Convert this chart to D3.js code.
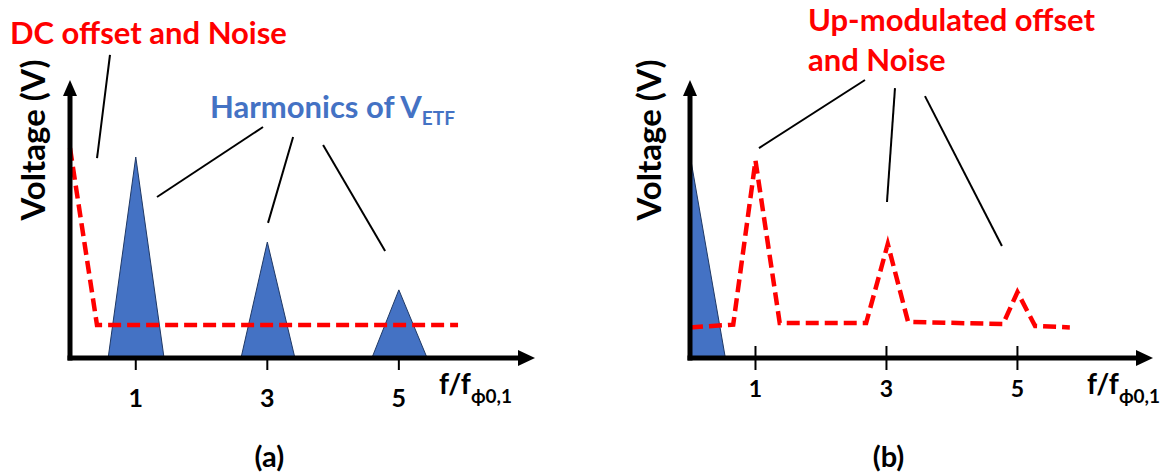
<!DOCTYPE html>
<html lang="en">
<head>
<meta charset="utf-8">
<title>Spectrum sketch</title>
<script src="https://cdn.jsdelivr.net/npm/d3@7"></script>
<style>
  body { margin: 0; background: #fff; }
  text { font-family: Lato, "Open Sans", sans-serif; font-weight: bold; }
</style>
</head>
<body>
<script>
// ---- data (frequency in f/f_phi0,1, voltage in arbitrary units 0..1) ----
var freqTicks = [1, 3, 5];

// panel (a): harmonics of V_ETF
var harmonicPeakF = [1, 3, 5];
var harmonicPeakV = [0.723, 0.417, 0.245];
var harmonicBaseLo = [0.58, 2.6, 4.59];
var harmonicBaseHi = [1.43, 3.42, 5.43];

// panel (a): DC offset and noise
var noiseAF = [0, 0.41, 5.9];
var noiseAV = [0.755, 0.119, 0.119];

// panel (b): signal moved to baseband
var signalBF = [0, 0.54, 0];
var signalBV = [0.73, 0, 0];

// panel (b): up-modulated offset and noise
var noiseBF = [0, 0.66, 1.0, 1.37, 2.69, 3.02, 3.33, 4.78, 5.0, 5.27, 5.8];
var noiseBV = [0.11, 0.12, 0.71, 0.126, 0.126, 0.41, 0.13, 0.122, 0.237, 0.115, 0.11];

// callout lines [f1, v1, f2, v2]
var calloutDC = [[0.608, 1.09, 0.411, 0.719]];
var calloutHarm = [[2.935, 0.831, 1.323, 0.579], [3.392, 0.795, 3.011, 0.486], [3.848, 0.766, 4.791, 0.385]];
var calloutUp = [[2.672, 1.0, 1.053, 0.755], [3.13, 0.971, 3.008, 0.561], [3.588, 0.942, 4.763, 0.403]];

var w = 1174, h = 476;
var blue = "#4472C4", red = "#FF0000";

var svg = d3.select("body").append("svg")
    .attr("width", w).attr("height", h);

var y = d3.scaleLinear().domain([0, 1]).range([358, 80]);

function drawPanel(x0, x1, fMax) {
    var x = d3.scaleLinear().domain([0, fMax]).range([x0, x1]);
    var g = svg.append("g");
    return { x: x, g: g };
}

function poly(x, fs, vs) {
    return d3.line().x(function(d){ return x(d[0]); }).y(function(d){ return y(d[1]); })(d3.zip(fs, vs));
}

function axes(p) {
    var x = p.x, g = p.g;
    var ox = x(0), oy = y(0);
    var xEnd = x.range()[1];
    // ticks
    g.selectAll("line.tick").data(freqTicks).enter().append("line")
        .attr("class", "tick")
        .attr("x1", function(d){ return x(d); }).attr("x2", function(d){ return x(d); })
        .attr("y1", oy - 12).attr("y2", oy + 12)
        .attr("stroke", "#000").attr("stroke-width", 2);
    return function() {
        g.append("line").attr("x1", ox).attr("x2", ox).attr("y1", oy + 2.5).attr("y2", y(1) + 14)
            .attr("stroke", "#000").attr("stroke-width", 5);
        g.append("path").attr("d", "M" + (ox - 7) + "," + (y(1) + 16) + "L" + ox + "," + y(1) + "L" + (ox + 7) + "," + (y(1) + 16) + "Z")
            .attr("fill", "#000");
        g.append("line").attr("x1", ox - 2.5).attr("x2", xEnd - 14).attr("y1", oy).attr("y2", oy)
            .attr("stroke", "#000").attr("stroke-width", 5);
        g.append("path").attr("d", "M" + (xEnd - 17) + "," + (oy - 8) + "L" + xEnd + "," + oy + "L" + (xEnd - 17) + "," + (oy + 8) + "Z")
            .attr("fill", "#000");
    };
}

function callouts(p, data) {
    p.g.selectAll(null).data(data).enter().append("line")
        .attr("x1", function(d){ return p.x(d[0]); }).attr("y1", function(d){ return y(d[1]); })
        .attr("x2", function(d){ return p.x(d[2]); }).attr("y2", function(d){ return y(d[3]); })
        .attr("stroke", "#000").attr("stroke-width", 2);
}

function dashed(p, fs, vs) {
    p.g.append("path").attr("d", poly(p.x, fs, vs))
        .attr("fill", "none").attr("stroke", red).attr("stroke-width", 4.5)
        .attr("stroke-dasharray", "13,6");
}

function labels(p, o) {
    var g = p.g, x = p.x;
    g.selectAll(null).data(freqTicks).enter().append("text")
        .attr("x", function(d){ return x(d); }).attr("y", o.tickY)
        .attr("text-anchor", "middle").attr("font-size", o.tickSize)
        .text(function(d){ return d; });
    var t = g.append("text").attr("x", o.xlab).attr("y", o.xlabY).attr("font-size", 28);
    t.append("tspan").text("f/f");
    t.append("tspan").attr("dy", 9).attr("font-size", 19).text("\u03D50,1");
    g.append("text")
        .attr("transform", "translate(" + (x(0) - o.ylabOff) + ",140) rotate(-90)")
        .attr("text-anchor", "middle").attr("dominant-baseline", "central")
        .attr("font-size", 33).text("Voltage (V)");
    g.append("text").attr("x", x(3) + 2).attr("y", 467)
        .attr("text-anchor", "middle").attr("font-size", 29).text(o.panel);
}

// ---------- panel (a) ----------
var a = drawPanel(70, 535, 7.07);
var finishA = axes(a);
var tri = d3.range(harmonicPeakF.length).map(function(i){
    return [[harmonicBaseLo[i], 0], [harmonicPeakF[i], harmonicPeakV[i]], [harmonicBaseHi[i], 0]];
});
a.g.selectAll("path.harm").data(tri).enter().append("path")
    .attr("class", "harm")
    .attr("d", function(d){
        return d3.line().x(function(p){ return a.x(p[0]); }).y(function(p){ return y(p[1]); })(d) + "Z";
    })
    .attr("fill", blue).attr("stroke", "#1F3864").attr("stroke-width", 1);
dashed(a, noiseAF, noiseAV);
finishA();
callouts(a, calloutDC.concat(calloutHarm));
labels(a, { tickY: 407, tickSize: 25, xlab: 439, xlabY: 394, ylabOff: 38, panel: "(a)" });

a.g.append("text").attr("x", 10).attr("y", 44).attr("fill", red).attr("font-size", 31)
    .text("DC offset and Noise");
var ht = a.g.append("text").attr("x", 210).attr("y", 118).attr("fill", blue).attr("font-size", 31);
ht.append("tspan").text("Harmonics of V");
ht.append("tspan").attr("dy", 7).attr("font-size", 19).text("ETF");

// ---------- panel (b) ----------
var b = drawPanel(690, 1153, 7.07);
var finishB = axes(b);
b.g.append("path").attr("d", poly(b.x, signalBF, signalBV) + "Z")
    .attr("fill", blue).attr("stroke", "#1F3864").attr("stroke-width", 1);
dashed(b, noiseBF, noiseBV);
finishB();
callouts(b, calloutUp);
labels(b, { tickY: 397, tickSize: 23, xlab: 1087, xlabY: 394, ylabOff: 42, panel: "(b)" });

b.g.append("text").attr("x", 808).attr("y", 31).attr("fill", red).attr("font-size", 31)
    .text("Up-modulated offset");
b.g.append("text").attr("x", 808).attr("y", 71).attr("fill", red).attr("font-size", 31)
    .text("and Noise");
</script>
</body>
</html>
